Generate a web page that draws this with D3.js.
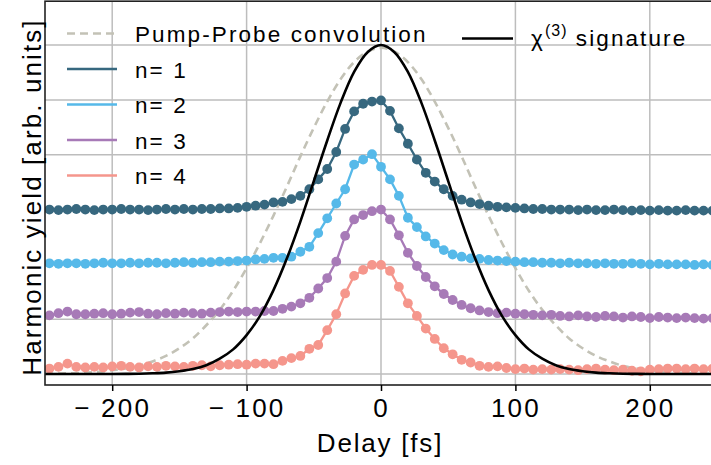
<!DOCTYPE html>
<html>
<head>
<meta charset="utf-8">
<script src="https://cdn.jsdelivr.net/npm/d3@7"></script>
<style>
  body { margin: 0; background: #fff; }
  svg { display: block; font-family: "Liberation Sans", Arial, sans-serif; }
  .tick text { letter-spacing: 2.2px; }
</style>
</head>
<body>
<div id="chart"></div>
<script>
// delay grid (fs), one point per stage step
const delays = [-246.7, -240, -233.3, -226.7, -220, -213.3, -206.7, -200, -193.3, -186.7,
  -180, -173.3, -166.7, -160, -153.3, -146.7, -140, -133.3, -126.7, -120,
  -113.3, -106.7, -100, -93.3, -86.7, -80, -73.3, -66.7, -60, -53.3,
  -46.7, -40, -33.3, -26.7, -20, -13.3, -6.7, 0, 6.7, 13.3,
  20, 26.7, 33.3, 40, 46.7, 53.3, 60, 66.7, 73.3, 80,
  86.7, 93.3, 100, 106.7, 113.3, 120, 126.7, 133.3, 140, 146.7,
  153.3, 160, 166.7, 173.3, 180, 186.7, 193.3, 200, 206.7, 213.3,
  220, 226.7, 233.3, 240, 246.7];

const n1 = [3.00, 2.99, 3.00, 3.01, 3.00, 2.99, 3.00, 3.00, 3.01, 3.00, 3.00, 2.99, 3.00, 3.01, 3.00, 3.01, 3.00, 3.01,
  3.01, 3.02, 3.02, 3.03, 3.05, 3.07, 3.09,
  3.13, 3.14, 3.19, 3.25, 3.37, 3.55, 3.74, 4.05, 4.47, 4.79, 4.93, 4.97, 4.99, 4.80, 4.48, 4.20, 3.91, 3.67, 3.51, 3.37, 3.25, 3.18, 3.13, 3.10, 3.07,
  3.05, 3.04, 3.03, 3.02, 3.01, 3.01, 3.00, 3.00, 3.00, 2.99, 3.00, 2.99, 2.99, 3.00, 2.99, 2.98, 2.99, 2.98, 2.99, 2.98, 2.98, 2.99, 2.98, 2.98, 2.98];

const n2 = [2.02, 2.01, 2.02, 2.02, 2.01, 2.02, 2.03, 2.02, 2.02, 2.03, 2.02, 2.03, 2.03, 2.02, 2.03, 2.04, 2.03, 2.04,
  2.04, 2.05, 2.05, 2.06, 2.07, 2.09, 2.10,
  2.12, 2.12, 2.14, 2.23, 2.32, 2.57, 2.84, 3.11, 3.37, 3.82, 3.91, 4.01, 3.78, 3.55, 3.25, 2.85, 2.68, 2.51, 2.38, 2.26, 2.18, 2.14, 2.11, 2.10, 2.08,
  2.07, 2.06, 2.05, 2.04, 2.04, 2.03, 2.03, 2.02, 2.03, 2.02, 2.02, 2.01, 2.02, 2.01, 2.01, 2.02, 2.01, 2.00, 2.01, 2.00, 2.00, 2.00, 1.99, 2.00, 1.99];

const n3 = [1.07, 1.11, 1.14, 1.09, 1.09, 1.10, 1.11, 1.09, 1.10, 1.12, 1.13, 1.10, 1.09, 1.11, 1.10, 1.12, 1.11, 1.10, 1.12, 1.13, 1.14, 1.13, 1.14, 1.14, 1.15,
  1.15, 1.19, 1.23, 1.29, 1.39, 1.56, 1.75, 2.05, 2.52, 2.82, 2.90, 2.97, 3.00, 2.82, 2.53, 2.21, 1.97, 1.77, 1.60, 1.46, 1.35, 1.26, 1.20, 1.16, 1.13,
  1.11, 1.12, 1.10, 1.09, 1.08, 1.07, 1.08, 1.06, 1.05, 1.07, 1.05, 1.04, 1.06, 1.05, 1.03, 1.05, 1.04, 1.02, 1.04, 1.03, 1.02, 1.03, 1.02, 1.01, 1.02];

const n4 = [0.10, 0.13, 0.19, 0.13, 0.12, 0.13, 0.12, 0.14, 0.15, 0.13, 0.12, 0.14, 0.13, 0.15, 0.14, 0.13, 0.15, 0.16, 0.14, 0.16, 0.17, 0.18, 0.17, 0.19, 0.19,
  0.18, 0.24, 0.29, 0.33, 0.46, 0.53, 0.80, 1.09, 1.47, 1.79, 1.90, 1.99, 1.99, 1.88, 1.59, 1.29, 1.06, 0.83, 0.64, 0.47, 0.36, 0.26, 0.21, 0.15, 0.13,
  0.14, 0.11, 0.09, 0.10, 0.08, 0.09, 0.08, 0.09, 0.08, 0.07, 0.09, 0.10, 0.08, 0.07, 0.08, 0.06, 0.05, 0.08, 0.09, 0.10, 0.10, 0.09, 0.10, 0.09, 0.10];

// smooth reference curves, read every 10 fs
const curveDelays = d3.range(-250, 251, 10);
const pumpProbe = [0.005, 0.009, 0.015, 0.025, 0.04, 0.07, 0.10, 0.15, 0.23, 0.33,
  0.47, 0.65, 0.89, 1.17, 1.52, 1.93, 2.39, 2.89, 3.42, 3.97,
  4.49, 4.97, 5.38, 5.69, 5.88, 5.95, 5.88, 5.69, 5.38, 4.97,
  4.49, 3.97, 3.42, 2.89, 2.39, 1.93, 1.52, 1.17, 0.89, 0.65,
  0.47, 0.33, 0.23, 0.15, 0.10, 0.07, 0.04, 0.025, 0.015, 0.009, 0.005];
const chi3 = [0, 0, 0, 0, 0, 0.001, 0.003, 0.006, 0.013, 0.025,
  0.05, 0.09, 0.16, 0.28, 0.45, 0.71, 1.06, 1.53, 2.11, 2.78,
  3.52, 4.26, 4.95, 5.51, 5.87, 6.00, 5.87, 5.51, 4.95, 4.26,
  3.52, 2.78, 2.11, 1.53, 1.06, 0.71, 0.45, 0.28, 0.16, 0.09,
  0.05, 0.025, 0.013, 0.006, 0.003, 0.001, 0, 0, 0, 0, 0];

const seriesNames = ["n= 1", "n= 2", "n= 3", "n= 4"];
const seriesColors = ["#37687f", "#56b9e9", "#a77ab7", "#f5968c"];
const xTicks = [-200, -100, 0, 100, 200];
const yGrid = [0, 1, 2, 3, 4, 5, 6];

const W = 711, H = 465;
const svg = d3.select("#chart").append("svg")
  .attr("width", W).attr("height", H);

const x = d3.scaleLinear().domain([-250, 250]).range([45, 717]);
const y = d3.scaleLinear().domain([-0.2, 6.8]).range([385, 1.2]);

svg.append("clipPath").attr("id", "plot")
  .append("rect").attr("x", 45).attr("y", 1.2).attr("width", 672).attr("height", 383.8);

// grid
svg.append("g").selectAll("line").data(yGrid).enter().append("line")
  .attr("x1", 45).attr("x2", 717)
  .attr("y1", d => y(d)).attr("y2", d => y(d))
  .attr("stroke", "#bdbdbd").attr("stroke-width", 1.5);
svg.append("g").selectAll("line").data(xTicks).enter().append("line")
  .attr("x1", d => x(d)).attr("x2", d => x(d))
  .attr("y1", 1.2).attr("y2", 385)
  .attr("stroke", "#bdbdbd").attr("stroke-width", 1.5);

const plot = svg.append("g").attr("clip-path", "url(#plot)");

const smooth = d3.line().x((d, i) => x(curveDelays[i])).y(d => y(d)).curve(d3.curveCatmullRom);

plot.append("path").datum(pumpProbe)
  .attr("d", smooth)
  .attr("fill", "none").attr("stroke", "#c3c2b6").attr("stroke-width", 2.6)
  .attr("stroke-dasharray", "8,5");

const straight = d3.line().x((d, i) => x(delays[i])).y(d => y(d));
[n1, n2, n3, n4].forEach((vals, s) => {
  const g = plot.append("g");
  g.append("path").datum(vals)
    .attr("d", straight)
    .attr("fill", "none").attr("stroke", seriesColors[s]).attr("stroke-width", 2.3);
  g.selectAll("circle").data(vals).enter().append("circle")
    .attr("cx", (d, i) => x(delays[i]))
    .attr("cy", d => y(d))
    .attr("r", 4.9)
    .attr("fill", seriesColors[s]);
});

plot.append("path").datum(chi3)
  .attr("d", smooth)
  .attr("fill", "none").attr("stroke", "#000").attr("stroke-width", 2.6);

// frame
svg.append("rect").attr("x", 45).attr("y", 1.2).attr("width", 672).attr("height", 383.8)
  .attr("fill", "none").attr("stroke", "#222").attr("stroke-width", 1.6);

// x axis
const xAxis = svg.append("g")
  .attr("transform", "translate(0,385)")
  .call(d3.axisBottom(x).tickValues(xTicks).tickSize(6).tickPadding(8)
    .tickFormat(d => d < 0 ? "\u2212 " + Math.abs(d) : d));
xAxis.select(".domain").remove();
xAxis.selectAll("line").attr("stroke", "#000").attr("stroke-width", 1.5);
xAxis.selectAll("text").attr("fill", "#000").style("font-size", "26px")
  .style("font-family", "'Liberation Sans', Arial, sans-serif");

svg.append("text")
  .attr("x", 380).attr("y", 452)
  .attr("text-anchor", "middle")
  .style("font-size", "26px").style("letter-spacing", "1.8px")
  .text("Delay [fs]");

svg.append("text")
  .attr("transform", "translate(41,197) rotate(-90)")
  .attr("text-anchor", "middle")
  .style("font-size", "26px").style("letter-spacing", "2.1px")
  .text("Harmonic yield [arb. units]");

// legend, left column
const leg = svg.append("g").style("font-size", "22.5px").style("letter-spacing", "2.1px");
leg.append("line").attr("x1", 67).attr("x2", 117).attr("y1", 33.5).attr("y2", 33.5)
  .attr("stroke", "#c3c2b6").attr("stroke-width", 2.6).attr("stroke-dasharray", "8,5");
leg.append("text").attr("x", 135).attr("y", 41.5).text("Pump-Probe convolution");
seriesNames.forEach((name, i) => {
  const yy = 69 + i * 35.5;
  leg.append("line").attr("x1", 67).attr("x2", 117).attr("y1", yy).attr("y2", yy)
    .attr("stroke", seriesColors[i]).attr("stroke-width", 2.6);
  leg.append("text").attr("x", 135).attr("y", yy + 8.5).text(name);
});

// legend, right entry
leg.append("line").attr("x1", 462).attr("x2", 513).attr("y1", 38.5).attr("y2", 38.5)
  .attr("stroke", "#000").attr("stroke-width", 2.6);
const chiText = leg.append("text").attr("x", 531).attr("y", 46);
chiText.append("tspan").text("\u03c7");
chiText.append("tspan").attr("dy", -10).style("font-size", "16px").style("letter-spacing", "1px").text("(3)");
chiText.append("tspan").attr("dy", 10).text(" signature");
</script>
</body>
</html>
